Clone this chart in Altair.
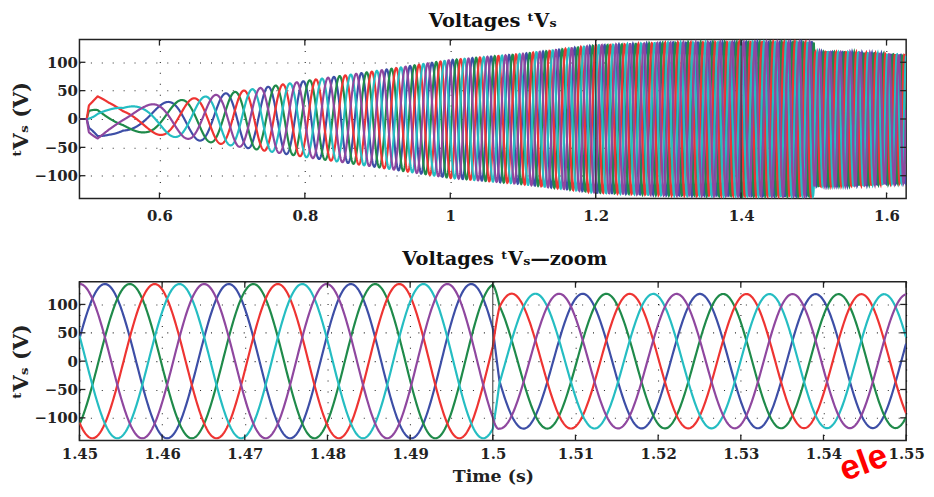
import numpy as np
import pandas as pd
import altair as alt

alt.data_transformers.disable_max_rows()

# ---- series identity (drawing order) ----
PHASE_NAMES = ["blue", "green", "red", "cyan", "purple"]
PHASE_COLORS = ["#3d4ea6", "#1f8a4a", "#ee3432", "#25bdc2", "#8f479f"]
PHASE_LEAD_DEG = [144, 72, 0, -72, -144]

# ---- envelope ----
# stator frequency (Hz) at given times
FREQ_T = [0.49, 0.50, 0.60, 0.70, 0.80, 0.90, 1.00, 1.10, 1.20, 1.30, 1.40, 1.50, 1.63]
FREQ_HZ = [2.0, 2.0, 9.05, 15.75, 22.45, 29.15, 35.85, 42.55, 49.25, 55.95, 62.65, 69.35, 78.05]
# peak voltage (V) at given times
AMP_T = [0.49, 0.50, 0.503, 0.515, 0.53, 0.55, 0.58, 0.60, 0.65, 0.70, 0.80, 0.90,
         1.00, 1.10, 1.20, 1.30, 1.40, 1.4999, 1.50, 1.55, 1.63]
AMP_V = [0, 0, 25, 40, 30, 21, 24, 28, 37, 47, 67, 85,
         104, 115, 130, 135, 136, 136, 119, 118, 113]
STEP_T = 1.5           # load step instant
STEP_PHASE_DEG = 22    # phase jump at the step
STEP_BLEND_S = 0.0008
RED_PEAK_T = 1.4591    # a red peak read in the zoom panel

TOP_X_TICKS = [0.6, 0.8, 1.0, 1.2, 1.4, 1.6]
BOT_X_TICKS = [1.45, 1.46, 1.47, 1.48, 1.49, 1.50, 1.51, 1.52, 1.53, 1.54, 1.55]
Y_TICKS = [-100, -50, 0, 50, 100]
TOP_X_DOMAIN = [0.49, 1.627]
BOT_X_DOMAIN = [1.45, 1.55]
Y_DOMAIN = [-140, 140]
TOP_SOLID_LINES = [1.2, 1.4]
BOT_SOLID_LINES = [1.5]

TITLE_TOP = "Voltages ᵗVₛ"
TITLE_BOT = "Voltages ᵗVₛ—zoom"
Y_TITLE = "ᵗVₛ  (V)"
X_TITLE = "Time (s)"
WATERMARK = ["ele"]

# ---- build waveforms ----
fine_t = np.arange(0.49, 1.6300001, 0.00002)
fine_f = np.interp(fine_t, FREQ_T, FREQ_HZ)
cycles = np.concatenate([[0.0], np.cumsum(0.5 * (fine_f[1:] + fine_f[:-1]) * np.diff(fine_t))])


def theta(t):
    return 2 * np.pi * np.interp(t, fine_t, cycles)


theta0 = np.pi / 2 - theta(RED_PEAK_T)


def wave(t, lead_deg):
    th = theta(t) + theta0 + np.radians(lead_deg)
    pre = np.interp(np.minimum(t, STEP_T - 1e-4), AMP_T, AMP_V) * np.sin(th)
    post = np.interp(t, AMP_T, AMP_V) * np.sin(th + np.radians(STEP_PHASE_DEG))
    w = np.clip((t - STEP_T) / STEP_BLEND_S, 0, 1)
    return np.where(t < STEP_T, pre, (1 - w) * pre + w * post)


def frame(ts):
    rows = []
    for name, lead in zip(PHASE_NAMES, PHASE_LEAD_DEG):
        rows.append(pd.DataFrame({"t": np.round(ts, 5), "v": np.round(wave(ts, lead), 2), "phase": name}))
    return pd.concat(rows, ignore_index=True)


top_df = frame(np.arange(0.49, 1.6270001, 0.0004))
bot_df = frame(np.arange(1.45, 1.5500001, 0.0001))

FONT = "DejaVu Serif"
INK = "#222222"
W = 833


def panel(df, xdom, xticks, height, title, title_dx, title_offset, x_title, x_label_pad, solid):
    xs = alt.Scale(domain=xdom, nice=False, zero=False)
    ys = alt.Scale(domain=Y_DOMAIN, nice=False, zero=False)
    xaxis_kw = dict(values=xticks, format="~g", labelPadding=x_label_pad, labelFlush=False)
    if x_title:
        xaxis = alt.Axis(title=x_title, titlePadding=6, titleFontSize=17.5, **xaxis_kw)
    else:
        xaxis = alt.Axis(title=None, **xaxis_kw)
    yaxis = alt.Axis(values=Y_TICKS, title=Y_TITLE, labelPadding=2, titlePadding=2)
    X = alt.X("t:Q", scale=xs, axis=xaxis)
    Y = alt.Y("v:Q", scale=ys, axis=yaxis)
    lines = alt.Chart(df).mark_line(strokeWidth=2.2, clip=True).encode(
        x=X, y=Y,
        color=alt.Color("phase:N", scale=alt.Scale(domain=PHASE_NAMES, range=PHASE_COLORS), legend=None),
    )
    xt = pd.DataFrame({"t": xticks})
    yt = pd.DataFrame({"v": Y_TICKS})
    sl = pd.DataFrame({"t": solid})
    solid_lines = alt.Chart(sl).mark_rule(color="#333333", strokeWidth=1).encode(x=X)
    tick_top = alt.Chart(xt).mark_rule(color=INK, strokeWidth=1.3).encode(
        x=X, y=alt.value(0), y2=alt.value(6))
    tick_bot = alt.Chart(xt).mark_rule(color=INK, strokeWidth=1.3).encode(
        x=X, y=alt.value(height - 6), y2=alt.value(height))
    tick_l = alt.Chart(yt).mark_rule(color=INK, strokeWidth=1.3).encode(
        y=Y, x=alt.value(0), x2=alt.value(6))
    tick_r = alt.Chart(yt).mark_rule(color=INK, strokeWidth=1.3).encode(
        y=Y, x=alt.value(W - 6), x2=alt.value(W))
    return alt.layer(lines, solid_lines, tick_top, tick_bot, tick_l, tick_r).properties(
        width=W, height=height,
        title=alt.TitleParams(title, fontSize=19.5, font=FONT, fontWeight="bold", color="#111",
                              anchor="middle", dx=title_dx, offset=title_offset),
    )


top = panel(top_df, TOP_X_DOMAIN, TOP_X_TICKS, 160, TITLE_TOP, 0, 8, None, 10, TOP_SOLID_LINES)

wm = alt.Chart(pd.DataFrame({"w": WATERMARK})).mark_text(
    align="left", baseline="alphabetic", angle=340, fontSize=35, font="Liberation Sans",
    fontWeight="bold", color="#ff0000", clip=False,
).encode(text="w:N", x=alt.value(771), y=alt.value(201))

bot = alt.layer(panel(bot_df, BOT_X_DOMAIN, BOT_X_TICKS, 160, TITLE_BOT, 12, 12, X_TITLE, 6, BOT_SOLID_LINES), wm)

chart = alt.vconcat(top, bot, spacing=24).properties(
    padding={"left": 2, "top": 0, "right": 0, "bottom": 0}
).configure_view(stroke=INK, strokeWidth=1.5).configure_axis(
    labelFont=FONT, labelFontWeight="bold", labelFontSize=15, labelColor=INK,
    titleFont=FONT, titleFontWeight="bold", titleFontSize=21, titleColor=INK,
    domain=False, ticks=False, tickSize=0, grid=True, gridDash=[1, 10], gridColor="#000000",
    gridWidth=1.1, gridOpacity=0.85,
).configure_concat(spacing=24)

chart.save("out.html", embed_options={"renderer": "svg", "actions": False})
